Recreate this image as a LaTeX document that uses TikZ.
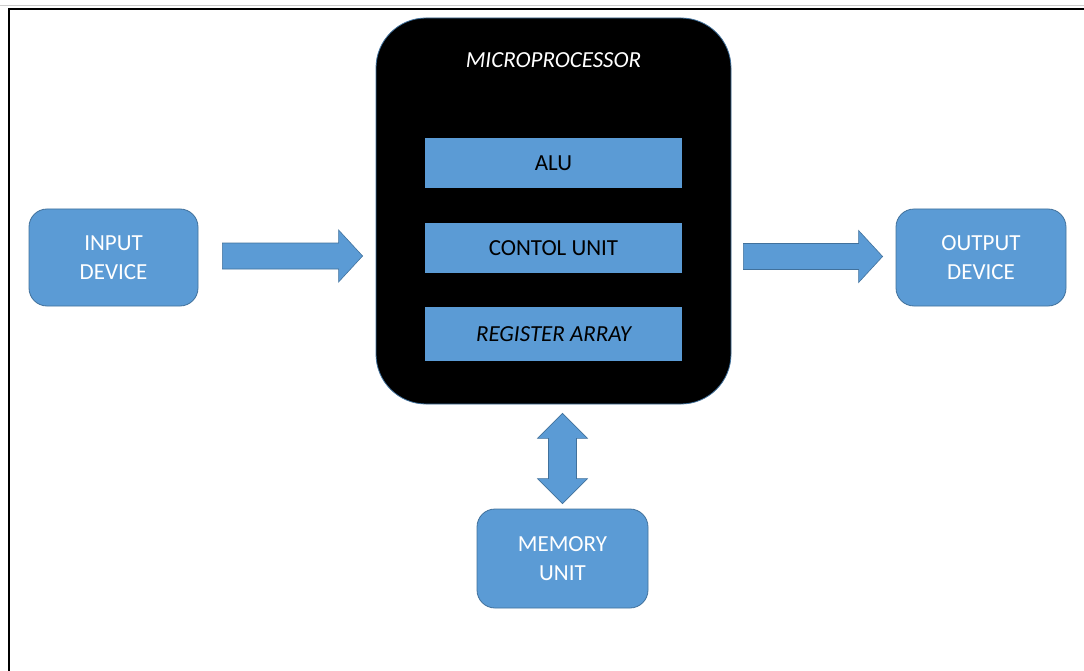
\documentclass[tikz,border=0pt]{standalone}
\usepackage{fontspec}
\setmainfont{Carlito}
\usetikzlibrary{calc}
\definecolor{boxblue}{HTML}{5B9BD5}
\definecolor{boxline}{HTML}{41719C}
\newcommand\labelfont{\fontsize{23}{28.5}\selectfont}
\tikzset{
  block/.style={draw=boxline, line width=0.8pt, fill=boxblue, rounded corners=18pt,
    text=white, align=center, font=\labelfont, inner sep=0pt},
  unitbar/.style={fill=boxblue, draw=none, minimum width=257pt, text=black,
    font=\labelfont, inner sep=0pt},
  cpu/.style={fill=black, draw=boxline, line width=0.8pt, rounded corners=50pt,
    minimum width=355pt, minimum height=386pt, inner sep=0pt},
  blockarrow/.style={fill=boxblue, draw=boxline, line width=0.6pt},
}
% horizontal block arrow from #1 to #2 (shaft half-width 13, head half-width 26, head length 24)
\newcommand\hblockarrow[2]{%
  \path[blockarrow] let \p1=(#1), \p2=(#2) in
    (\x1,\y1+13pt) -- (\x2-24pt,\y1+13pt) -- (\x2-24pt,\y1+26pt) -- (\x2,\y1)
    -- (\x2-24pt,\y1-26pt) -- (\x2-24pt,\y1-13pt) -- (\x1,\y1-13pt) -- cycle;}
% vertical double-headed block arrow between #1 (top) and #2 (bottom)
\newcommand\vdblarrow[2]{%
  \path[blockarrow] let \p1=(#1), \p2=(#2) in
    (\x1,\y1) -- (\x1+25pt,\y1-25pt) -- (\x1+14pt,\y1-25pt) -- (\x1+14pt,\y2+25pt)
    -- (\x1+25pt,\y2+25pt) -- (\x1,\y2) -- (\x1-25pt,\y2+25pt) -- (\x1-14pt,\y2+25pt)
    -- (\x1-14pt,\y1-25pt) -- (\x1-25pt,\y1-25pt) -- cycle;}
\begin{document}
\begin{tikzpicture}[x=1pt, y=-1pt]
  \useasboundingbox (0,0) rectangle (1084,671);
  % page frame (top and left edges)
  \draw[gray!40, line width=1pt] (0,6) -- (1084,6);
  \draw[black, line width=2.5pt] (1084,9) -- (9,9) -- (9,671);

  % microprocessor and its units
  \node[cpu] (mp) at (553.5,211) {};
  \node[text=white, font=\labelfont\itshape] (mptitle) at (553.5,60) {MICROPROCESSOR};
  \node[unitbar, minimum height=50pt] (alu) at (553.5,163) {ALU};
  \node[unitbar, minimum height=50pt] (cu) at (553.5,248) {CONTOL UNIT};
  \node[unitbar, minimum height=54pt, font=\labelfont\itshape] (reg) at (553.5,334) {REGISTER ARRAY};

  % peripheral blocks
  \node[block, minimum width=169pt, minimum height=97pt] (in) at (113.5,257.5) {INPUT\\DEVICE};
  \node[block, minimum width=170pt, minimum height=97pt] (out) at (981,257.5) {OUTPUT\\DEVICE};
  \node[block, minimum width=171pt, minimum height=99pt] (mem) at (562.5,558.5) {MEMORY\\UNIT};

  % connections
  \coordinate (inA) at ($(in.east)+(24,-1.5)$);
  \coordinate (inB) at ($(mp.west |- in.east)+(-13,-1.5)$);
  \hblockarrow{inA}{inB}
  \coordinate (outA) at ($(mp.east |- out.west)+(12,-1)$);
  \coordinate (outB) at ($(out.west)+(-13,-1)$);
  \hblockarrow{outA}{outB}
  \coordinate (memA) at ($(mem.north |- mp.south)+(0,9)$);
  \coordinate (memB) at ($(mem.north)+(0,-5)$);
  \vdblarrow{memA}{memB}
\end{tikzpicture}
\end{document}
